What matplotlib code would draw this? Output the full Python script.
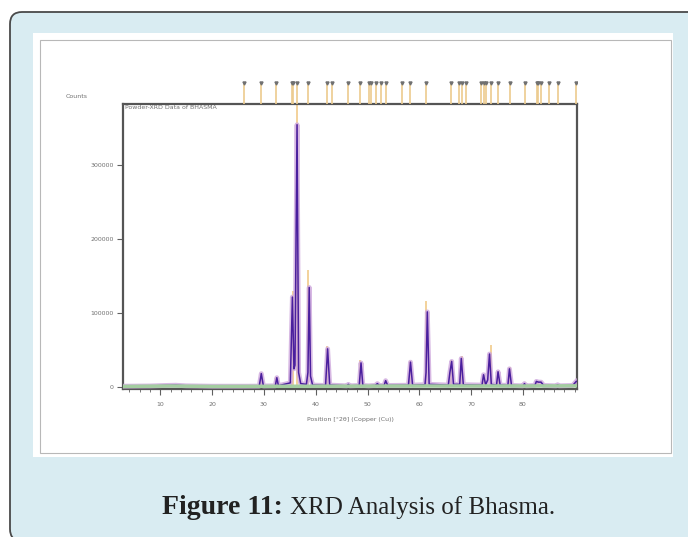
import matplotlib.pyplot as plt
from matplotlib.patches import FancyBboxPatch, Rectangle
from matplotlib.transforms import IdentityTransform

# measured profile (2theta in degrees, counts)
two_theta = [3.0, 8.0, 11.0, 13.0, 15.0, 20.0, 26.0, 29.1, 29.5, 29.9,
             32.2, 32.5, 32.8, 35.1, 35.5, 35.8, 36.0, 36.4, 36.7, 37.1,
             38.2, 38.5, 38.75, 39.0, 39.4, 41.9, 42.3, 42.7, 46.0, 46.3,
             46.6, 48.4, 48.75, 49.1, 50.2, 51.5, 51.9, 52.3, 53.2, 53.5,
             53.9, 57.9, 58.3, 58.7, 61.1, 61.3, 61.55, 61.9, 65.6, 65.9,
             66.25, 66.6, 67.8, 68.1, 68.5, 72.1, 72.4, 72.8, 73.2, 73.55,
             73.9, 74.9, 75.2, 75.6, 77.1, 77.4, 77.8, 80.0, 80.3, 80.6,
             82.3, 82.6, 83.0, 83.5, 84.0, 86.4, 86.7, 87.0, 89.6, 90.3]
counts = [1500, 1800, 2500, 2800, 2000, 1500, 1500, 1600, 18500, 1800,
          2000, 13000, 2200, 6000, 122000, 25000, 30000, 355000, 20000, 5000,
          4000, 20000, 135000, 15000, 3000, 2500, 52000, 3000, 2000, 4000,
          2000, 2500, 33000, 2500, 2000, 2500, 5000, 2500, 2500, 9000,
          2500, 2800, 34000, 3000, 3500, 20000, 102000, 4000, 3000, 20000,
          35000, 4000, 4000, 39000, 3500, 3000, 17000, 3500, 10000, 45000,
          4000, 3000, 21000, 3000, 2500, 25000, 2500, 2000, 5000, 2000,
          2500, 8000, 7000, 7000, 2500, 2000, 3500, 2000, 2500, 8000]

# fitted background
bg_theta = [3.0, 12.0, 20.0, 40.0, 60.0, 80.0, 90.4]
bg_counts = [1200, 1800, 1200, 1500, 1800, 1800, 2000]

# reference pattern sticks
ref_pos = [26.2, 29.4, 32.3, 35.4, 35.7, 36.3, 38.6, 42.1, 43.1, 46.2,
           48.6, 50.2, 50.7, 51.6, 52.6, 53.5, 56.7, 58.2, 61.3, 66.1,
           67.7, 68.2, 69.0, 72.0, 72.5, 72.9, 73.8, 75.1, 77.5, 80.4,
           82.7, 83.0, 83.4, 85.0, 86.8, 90.3]
ref_height = [2000, 20000, 14000, 8000, 130000, 390000, 158000, 56000, 3000, 4000,
              37000, 3000, 3000, 3000, 3000, 10000, 3000, 36000, 117000, 37000,
              5000, 42000, 4000, 3000, 17000, 8000, 57000, 22000, 27000, 5000,
              8000, 8000, 8000, 4000, 4000, 8000]

W, H = 688, 537
fig = plt.figure(figsize=(W / 100, H / 100), dpi=100)
fig.patch.set_facecolor('white')

# page decoration: light blue rounded box, white panel, grey frame
fig.patches.append(FancyBboxPatch((10, -4), 720, H - 12 + 4,
                                  boxstyle="round,pad=0,rounding_size=12",
                                  transform=IdentityTransform(), zorder=-3,
                                  facecolor='#d9ecf2', edgecolor='#4a4a4a', lw=1.3))
fig.patches.append(Rectangle((33, H - 457), 640, 424, transform=IdentityTransform(),
                             zorder=-2, facecolor='white', edgecolor='none'))
fig.patches.append(Rectangle((40, H - 453), 631, 413, transform=IdentityTransform(),
                             zorder=-1, facecolor='none', edgecolor='#b8b8b8', lw=0.8))

x0, x1 = 2.86, 90.44
ax = fig.add_axes([123.3 / W, 1 - 388.5 / H, (577 - 123.3) / W, (388.5 - 104) / H])
ax.set_xlim(x0, x1)
ax.set_ylim(-1600, 383000)

ax.vlines(ref_pos, 0, ref_height, color='#f2cf93', lw=1.3, zorder=1)
ax.plot(two_theta, counts, color='#cda6dc', lw=3.5, alpha=0.8, zorder=3)
ax.plot(two_theta, counts, color='#4a1f9e', lw=1.1, zorder=4)
ax.plot(bg_theta, bg_counts, color='#a3cda0', lw=2.5, zorder=5)

for s in ax.spines.values():
    s.set_color('#555555')
    s.set_linewidth(1.6)

ax.set_xticks([10, 20, 30, 40, 50, 60, 70, 80])
ax.set_xticks(range(4, 91, 2), minor=True)
ax.set_yticks([0, 100000, 200000, 300000])
ax.set_yticklabels(['0', '100000', '200000', '300000'])
ax.tick_params(which='major', length=4, width=0.8, color='#606060',
               labelsize=4.5, labelcolor='#707070', pad=3)
ax.tick_params(axis='x', which='major', pad=6)
ax.tick_params(which='minor', length=2, width=0.6, color='#606060')

ax.text(0.004, 0.997, 'Powder-XRD Data of BHASMA', transform=ax.transAxes,
        ha='left', va='top', fontsize=4.5, color='#707070')
fig.text(77 / W, 1 - 97 / H, 'Counts', ha='center', va='center',
         fontsize=4.5, color='#707070')
fig.text(350 / W, 1 - 419 / H, 'Position [°2θ] (Copper (Cu))', ha='center',
         va='center', fontsize=4.5, color='#707070')

# reference marker strip above the plot
rax = fig.add_axes([123.3 / W, 1 - 104 / H, (577 - 123.3) / W, 24 / H])
rax.set_xlim(x0, x1)
rax.set_ylim(0, 1)
rax.axis('off')
rax.vlines(ref_pos, 0, 0.85, color='#eccb8e', lw=1.2)
rax.plot(ref_pos, [0.87] * len(ref_pos), linestyle='none', marker='v',
         markersize=2.2, color='#707070')

# caption
fig.text(283 / W, 1 - 508 / H, 'Figure 11:', ha='right', va='center',
         fontsize=20, fontweight='bold', family='Liberation Serif', color='#222222')
fig.text(290 / W, 1 - 508 / H, 'XRD Analysis of Bhasma.', ha='left', va='center',
         fontsize=18, family='Liberation Serif', color='#222222')

fig.savefig('out.png', dpi=100)
